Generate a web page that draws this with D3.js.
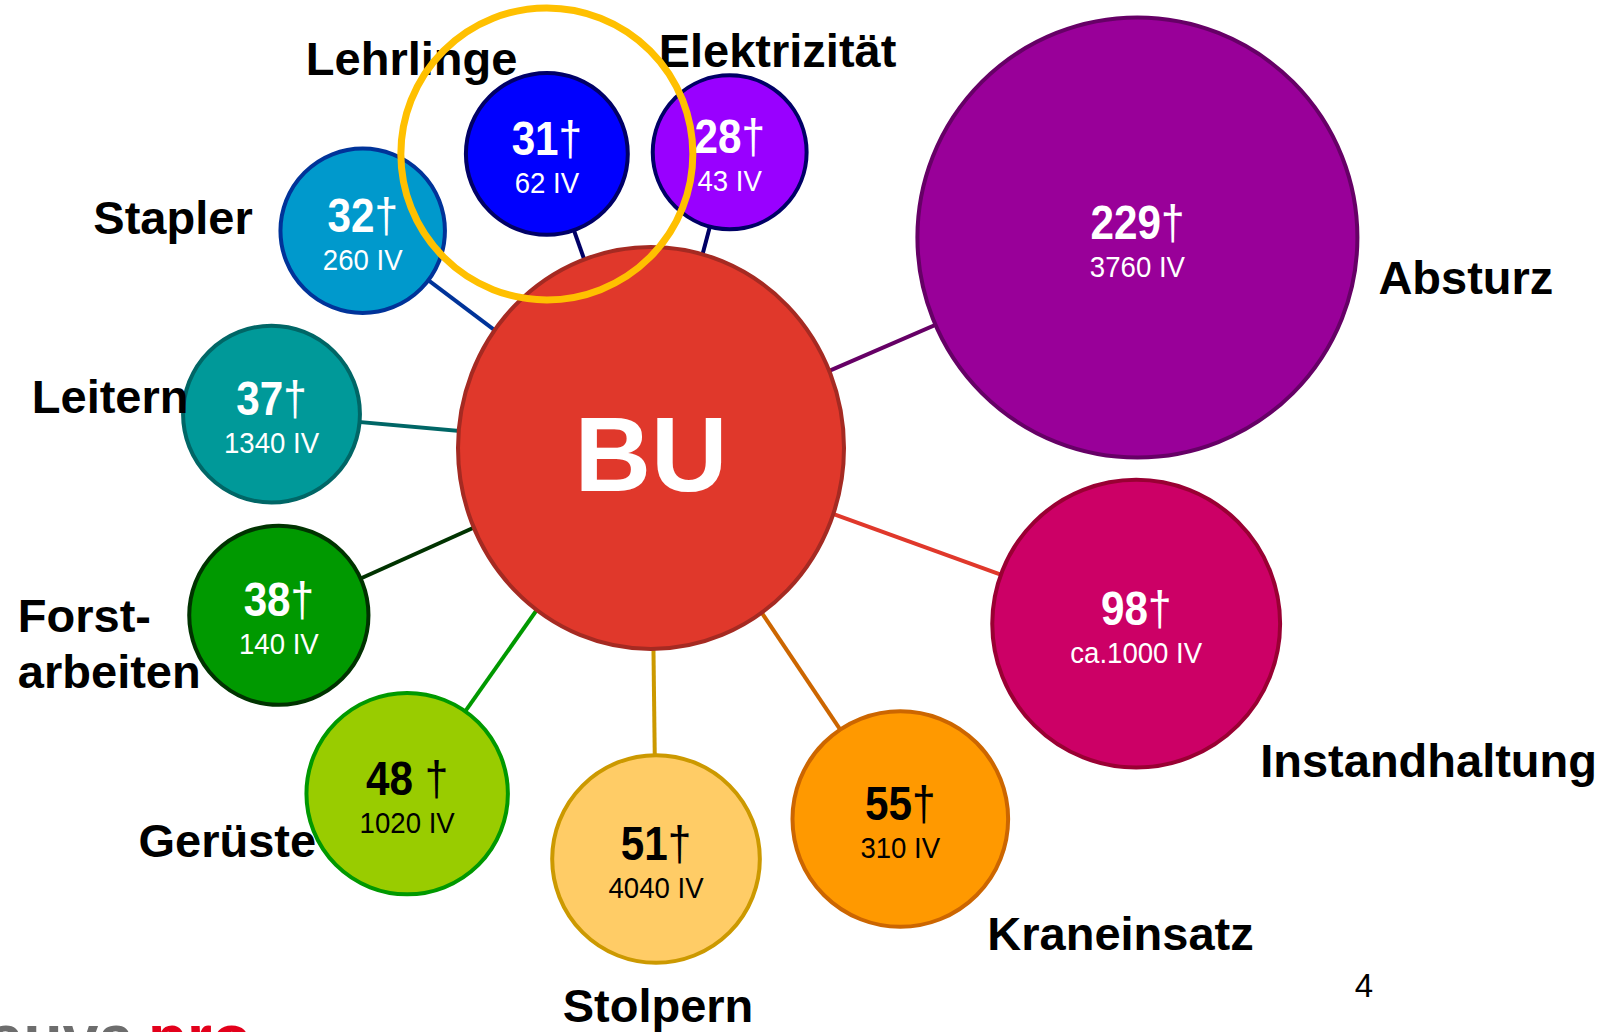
<!DOCTYPE html>
<html>
  <head>
    <meta charset="utf-8">
    <title>BU Unfallschwerpunkte</title>
    <script src="https://cdn.jsdelivr.net/npm/d3@7"></script>
    <style>
      body { margin: 0; background: #fff; }
      svg { display: block; font-family: "Liberation Sans", Arial, sans-serif; }
      .label { font-weight: bold; font-size: 47px; fill: #000; }
    </style>
  </head>
  <body>
    <svg id="chart" width="1612" height="1032"></svg>
    <script>
      // data
      const categories = ["Absturz", "Instandhaltung", "Kraneinsatz", "Stolpern", "Gerüste",
                          "Forstarbeiten", "Leitern", "Stapler", "Lehrlinge", "Elektrizität"];
      const labelLines = [["Absturz"], ["Instandhaltung"], ["Kraneinsatz"], ["Stolpern"], ["Gerüste"],
                          ["Forst-", "arbeiten"], ["Leitern"], ["Stapler"], ["Lehrlinge"], ["Elektrizität"]];
      const deaths = [229, 98, 55, 51, 48, 38, 37, 32, 31, 28];
      const injuries = ["3760 IV", "ca.1000 IV", "310 IV", "4040 IV", "1020 IV",
                        "140 IV", "1340 IV", "260 IV", "62 IV", "43 IV"];
      const hubLabel = "BU";
      const highlighted = "Lehrlinge";

      // colours
      const fills = ["#990099", "#cc0066", "#ff9900", "#ffcc66", "#99cc00",
                     "#009900", "#009999", "#0099cc", "#0000ff", "#9900ff"];
      const strokes = ["#660066", "#990033", "#cc6600", "#cc9900", "#009900",
                       "#003300", "#006666", "#003399", "#000066", "#000066"];
      const linkColors = ["#660066", "#e0382b", "#cc6600", "#cc9900", "#009900",
                          "#003300", "#006666", "#003399", "#000066", "#000066"];
      const textColors = ["#fff", "#fff", "#000", "#000", "#000", "#fff", "#fff", "#fff", "#fff", "#fff"];

      // layout: spoke angle (deg, clockwise from north) and length from the hub
      const spokeAngle = [66.6, 109.9, 146.1, 179.3, 215.2, 245.8, 275.1, 307, 340.5, 14.9];
      const spokeLength = [530, 516, 447, 411, 423, 408, 381, 361, 312, 306];
      // label placement relative to each bubble
      const labelDx = [241, 124, 87, 2, -91, -261, -83, -110, -241, -71];
      const labelDy = [56, 153, 131, 163, 63, 17, -1, 3, -79, -85];
      const labelAnchor = ["start", "start", "start", "middle", "end", "start", "end", "end", "start", "start"];
      const gapText = ["", "", "", "", " ", "", "", "", "", ""];

      const svg = d3.select("#chart");
      const hub = { x: 651, y: 448, rx: 193, ry: 201 };

      const r = d3.scaleSqrt().domain([0, d3.max(deaths)]).range([0, 220]);

      const nodes = categories.map((c, i) => {
        const p = d3.pointRadial(spokeAngle[i] * Math.PI / 180, spokeLength[i]);
        return { name: c, i, x: hub.x + p[0], y: hub.y + p[1], r: r(deaths[i]) };
      });

      // spokes first so the bubbles sit on top
      svg.append("g")
        .selectAll("line")
        .data(nodes)
        .join("line")
        .attr("x1", hub.x).attr("y1", hub.y)
        .attr("x2", (d) => d.x).attr("y2", (d) => d.y)
        .attr("stroke", (d) => linkColors[d.i])
        .attr("stroke-width", 4);

      // hub
      svg.append("ellipse")
        .attr("cx", hub.x).attr("cy", hub.y)
        .attr("rx", hub.rx).attr("ry", hub.ry)
        .attr("fill", "#e0382b")
        .attr("stroke", "#a52a22")
        .attr("stroke-width", 4);
      svg.append("text")
        .attr("x", hub.x).attr("y", hub.y + 43)
        .attr("text-anchor", "middle")
        .attr("font-size", 106).attr("font-weight", "bold")
        .attr("fill", "#fff")
        .text(hubLabel);

      const bubble = svg.append("g")
        .selectAll("g")
        .data(nodes)
        .join("g")
        .attr("transform", (d) => `translate(${d.x},${d.y})`);

      bubble.append("circle")
        .attr("r", (d) => d.r)
        .attr("fill", (d) => fills[d.i])
        .attr("stroke", (d) => strokes[d.i])
        .attr("stroke-width", 4);

      // the slide uses a narrow face for the numbers, so squeeze them a little
      const num = bubble.append("text")
        .attr("transform", "translate(0,1) scale(0.88,1)")
        .attr("text-anchor", "middle")
        .attr("fill", (d) => textColors[d.i]);
      num.append("tspan")
        .attr("font-size", 48).attr("font-weight", "bold")
        .text((d) => deaths[d.i] + gapText[d.i]);
      num.append("tspan")
        .attr("font-size", 48)
        .text("†");

      bubble.append("text")
        .attr("transform", "translate(0,39) scale(0.92,1)")
        .attr("text-anchor", "middle")
        .attr("font-size", 30)
        .attr("fill", (d) => textColors[d.i])
        .text((d) => injuries[d.i]);

      // category names
      const lbl = svg.append("g")
        .selectAll("text")
        .data(nodes)
        .join("text")
        .attr("class", "label")
        .attr("text-anchor", (d) => labelAnchor[d.i])
        .attr("transform", (d) => `translate(${d.x + labelDx[d.i]},${d.y + labelDy[d.i]})`);
      lbl.selectAll("tspan")
        .data((d) => labelLines[d.i])
        .join("tspan")
        .attr("x", 0)
        .attr("y", (t, j) => j * 56)
        .text((t) => t);

      // yellow highlight ring
      const hi = nodes.find((d) => d.name === highlighted);
      svg.append("circle")
        .attr("cx", hi.x).attr("cy", hi.y)
        .attr("r", 146)
        .attr("fill", "none")
        .attr("stroke", "#ffc000")
        .attr("stroke-width", 7);

      // page number
      svg.append("text")
        .attr("x", 1364).attr("y", 997)
        .attr("text-anchor", "middle")
        .attr("font-size", 33)
        .text("4");

      // logo, cut off at the bottom edge like on the slide
      const logo = svg.append("text")
        .attr("x", -12).attr("y", 1060)
        .attr("font-size", 64).attr("font-weight", "bold");
      logo.append("tspan").attr("fill", "#6d6d6d").text("auva");
      logo.append("tspan").attr("fill", "#e3001b").attr("dx", 14).text("pro");
    </script>
  </body>
</html>
